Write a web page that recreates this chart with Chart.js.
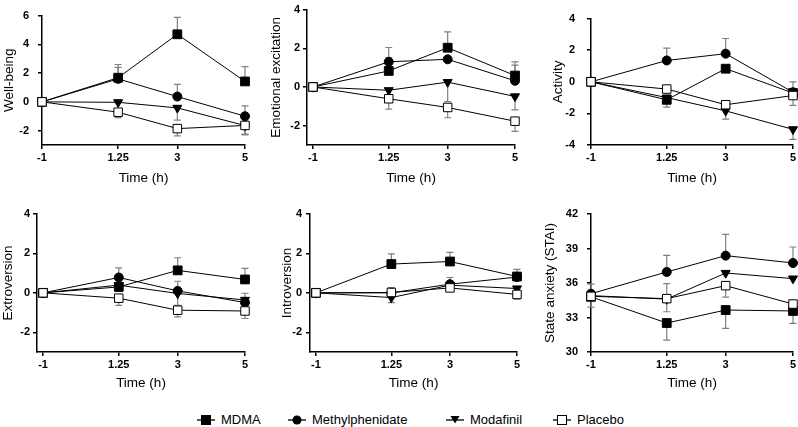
<!DOCTYPE html>
<html>
<head>
<meta charset="utf-8">
<script src="https://cdn.jsdelivr.net/npm/chart.js@4.4.1/dist/chart.umd.min.js"></script>
<style>
  body { margin: 0; background: #fff; width: 798px; height: 427px; overflow: hidden; position: relative;
         font-family: "Liberation Sans", Arial, sans-serif; }
  canvas { position: absolute; }
  .leg { position: absolute; top: 411px; height: 18px; font-size: 13px; line-height: 18px; color: #000; white-space: nowrap; }
  .leg svg { position: absolute; left: -29px; top: 0; }
</style>
</head>
<body>
<canvas id="c0"></canvas><canvas id="c1"></canvas><canvas id="c2"></canvas>
<canvas id="c3"></canvas><canvas id="c4"></canvas><canvas id="c5"></canvas>
<div id="legend"></div>
<script>
// ---- data ----
const times = [-1, 1.25, 3, 5];
const xTickVals = [-1, 1.25, 3, 5];
const seriesNames = ['MDMA', 'Methylphenidate', 'Modafinil', 'Placebo'];

const panelTitles = ['Well-being', 'Emotional excitation', 'Activity', 'Extroversion', 'Introversion', 'State anxiety (STAI)'];
const yTickSets = [[-2, 0, 2, 4, 6], [-2, 0, 2, 4], [-4, -2, 0, 2, 4], [-2, 0, 2, 4], [-2, 0, 2, 4], [30, 33, 36, 39, 42]];
const yRanges = [[-3, 6], [-3, 4], [-4, 4], [-3, 4], [-3, 4], [30, 42]];

// means, rows in seriesNames order
const wellBeingMean = [[0, 1.68, 4.70, 1.42], [0, 1.60, 0.37, -1.00], [0, -0.03, -0.42, -1.65], [0, -0.72, -1.86, -1.64]];
const emotionMean   = [[0, 0.83, 2.03, 0.59], [0, 1.30, 1.43, 0.32], [0, -0.17, 0.25, -0.49], [0, -0.61, -1.06, -1.77]];
const activityMean  = [[0, -1.14, 0.83, -0.71], [0, 1.35, 1.78, -0.66], [0, -1.00, -1.84, -3.01], [0, -0.46, -1.45, -0.87]];
const extroMean     = [[0, 0.30, 1.14, 0.68], [0, 0.78, 0.10, -0.49], [0, 0.39, -0.03, -0.36], [0, -0.27, -0.88, -0.92]];
const introMean     = [[0, 1.46, 1.59, 0.83], [0, 0.00, 0.44, 0.80], [0, -0.24, 0.39, 0.22], [0, 0.02, 0.25, -0.08]];
const anxietyMean   = [[34.8, 32.52, 33.65, 33.57], [35.07, 36.96, 38.38, 37.74], [34.9, 34.6, 36.87, 36.38], [34.84, 34.64, 35.77, 34.17]];

// one-sided SEM bars (+ up, - down, 0 none)
const wellBeingErr = [[0, 0.92, 1.18, 1.03], [0, 0.80, 0.85, 0.72], [0, 0, -0.85, -0.60], [0, -0.37, -0.50, -0.66]];
const emotionErr   = [[0, 0.67, 0.82, 0.71], [0, 0.74, 0, 0.81], [0, 0, -1.01, -0.69], [0, -0.54, -0.53, -0.53]];
const activityErr  = [[0, -0.46, 0, 0], [0, 0.78, 0.96, 0.66], [0, 0, -0.52, -0.64], [0, 0, 0, -0.62]];
const extroErr     = [[0, 0, 0.64, 0.56], [0, 0.49, 0.49, 0.47], [0, -0.30, -0.60, 0], [0, -0.37, -0.34, -0.38]];
const introErr     = [[0, 0.52, 0.46, 0.36], [0, 0, 0.34, 0], [0, -0.26, 0, 0], [0, 0.25, 0, -0.24]];
const anxietyErr   = [[0, -1.48, -1.59, -1.08], [0.83, 1.44, 1.85, 1.39], [0, -1.10, 0, 0], [-0.94, 1.30, -0.99, 0]];

const panelMeans = [wellBeingMean, emotionMean, activityMean, extroMean, introMean, anxietyMean];
const panelErrs = [wellBeingErr, emotionErr, activityErr, extroErr, introErr, anxietyErr];

// ---- look ----
const pointStyles = ['rect', 'circle', 'triangle', 'rect'];
const pointRot = [0, 0, 180, 0];
const pointFill = ['#000', '#000', '#000', '#fff'];
const pointSize = [6.2, 4.5, 5.2, 6.0];
const drawOrder = [2, 3, 1, 0];

// where each panel sits on the page
const boxes = [
  { left: 0,   top: 0,   axisX: 42,  right: 245, plotTop: 7,   plotBottom: 145, pageBottom: 190, xMin: -1,     tickPad: 9 },
  { left: 267, top: 0,   axisX: 307, right: 515, plotTop: 7,   plotBottom: 145, pageBottom: 190, xMin: -1.178, tickPad: 3 },
  { left: 549, top: 0,   axisX: 591, right: 793, plotTop: 7,   plotBottom: 145, pageBottom: 190, xMin: -1,     tickPad: 12 },
  { left: -1,  top: 195, axisX: 37,  right: 245, plotTop: 214, plotBottom: 352, pageBottom: 395, xMin: -1.18,  tickPad: 3 },
  { left: 278, top: 195, axisX: 310, right: 517, plotTop: 214, plotBottom: 352, pageBottom: 395, xMin: -1.178, tickPad: 4 },
  { left: 541, top: 195, axisX: 591, right: 793, plotTop: 214, plotBottom: 352, pageBottom: 395, xMin: -1,     tickPad: 9 }
];

Chart.defaults.font.family = '"Liberation Sans", Arial, sans-serif';
Chart.defaults.color = '#000';

// draws the one-sided error bars with the chart's own scales
const errorBars = {
  id: 'errorBars',
  beforeDatasetsDraw(chart) {
    const { ctx, scales: { x, y } } = chart;
    ctx.save();
    ctx.strokeStyle = '#808080';
    ctx.lineWidth = 1.2;
    chart.data.datasets.forEach(ds => {
      ds.errors.forEach((e, i) => {
        if (!e) return;
        const px = x.getPixelForValue(ds.data[i].x);
        const p0 = y.getPixelForValue(ds.data[i].y);
        const p1 = y.getPixelForValue(ds.data[i].y + e);
        ctx.beginPath();
        ctx.moveTo(px, p0); ctx.lineTo(px, p1);
        ctx.moveTo(px - 3.5, p1); ctx.lineTo(px + 3.5, p1);
        ctx.stroke();
      });
    });
    ctx.restore();
  }
};

function makePanel(idx) {
  const b = boxes[idx];
  const cv = document.getElementById('c' + idx);
  const padRight = 9;
  cv.width = b.right + padRight - b.left;
  cv.height = b.pageBottom - b.top;
  cv.style.left = b.left + 'px';
  cv.style.top = b.top + 'px';

  const datasets = seriesNames.map((name, s) => ({
    label: name,
    data: times.map((t, i) => ({ x: t, y: panelMeans[idx][s][i] })),
    errors: panelErrs[idx][s],
    borderColor: '#000',
    borderWidth: 1,
    pointStyle: pointStyles[s],
    rotation: pointRot[s],
    pointRadius: pointSize[s],
    pointBackgroundColor: pointFill[s],
    pointBorderColor: '#000',
    pointBorderWidth: 1,
    order: drawOrder[s],
    clip: false,
    tension: 0
  }));

  new Chart(cv, {
    type: 'line',
    data: { datasets },
    plugins: [errorBars],
    options: {
      responsive: false,
      animation: false,
      devicePixelRatio: 1,
      layout: { padding: { left: 0, top: b.plotTop - b.top, right: padRight, bottom: 0 } },
      plugins: { legend: { display: false }, tooltip: { enabled: false } },
      scales: {
        x: {
          type: 'linear', min: b.xMin, max: 5,
          afterBuildTicks: sc => { sc.ticks = xTickVals.map(v => ({ value: v })); },
          afterFit: sc => { sc.height = b.pageBottom - b.plotBottom; },
          ticks: { font: { size: 11, weight: 'bold' }, padding: 2, maxRotation: 0, callback: v => String(v) },
          grid: { display: true, drawOnChartArea: false, drawTicks: true, tickLength: 4, color: '#000', lineWidth: 1.5 },
          border: { display: true, color: '#000', width: 1.5 },
          title: { display: true, text: 'Time (h)', font: { size: 13.5 }, padding: { top: 2, bottom: 4 } }
        },
        y: {
          min: yRanges[idx][0], max: yRanges[idx][1],
          afterBuildTicks: sc => { sc.ticks = yTickSets[idx].map(v => ({ value: v })); },
          afterFit: sc => { sc.width = b.axisX - b.left; },
          ticks: { font: { size: 11, weight: 'bold' }, padding: b.tickPad },
          grid: { display: true, drawOnChartArea: false, drawTicks: true, tickLength: 4, color: '#000', lineWidth: 1.5 },
          border: { display: true, color: '#000', width: 1.5 },
          title: { display: true, text: panelTitles[idx], font: { size: 13.5 }, padding: { top: 1, bottom: 2 } }
        }
      }
    }
  });
}

for (let i = 0; i < 6; i++) makePanel(i);

// legend
const legendX = [221, 312, 470, 577];
const legendHtml = seriesNames.map((name, s) => {
  let mark;
  if (pointStyles[s] === 'rect') mark = `<rect x="9.5" y="4.5" width="9" height="9" fill="${pointFill[s]}" stroke="#000" stroke-width="1"/>`;
  else if (pointStyles[s] === 'circle') mark = `<circle cx="14" cy="9" r="4.5" fill="#000"/>`;
  else mark = `<polygon points="9.5,5 18.5,5 14,12.5" fill="#000"/>`;
  return `<div class="leg" style="left:${legendX[s]}px"><svg width="28" height="18"><line x1="5" y1="9" x2="23" y2="9" stroke="#000" stroke-width="1.3"/>${mark}</svg>${name}</div>`;
}).join('');
document.getElementById('legend').innerHTML = legendHtml;
</script>
</body>
</html>
